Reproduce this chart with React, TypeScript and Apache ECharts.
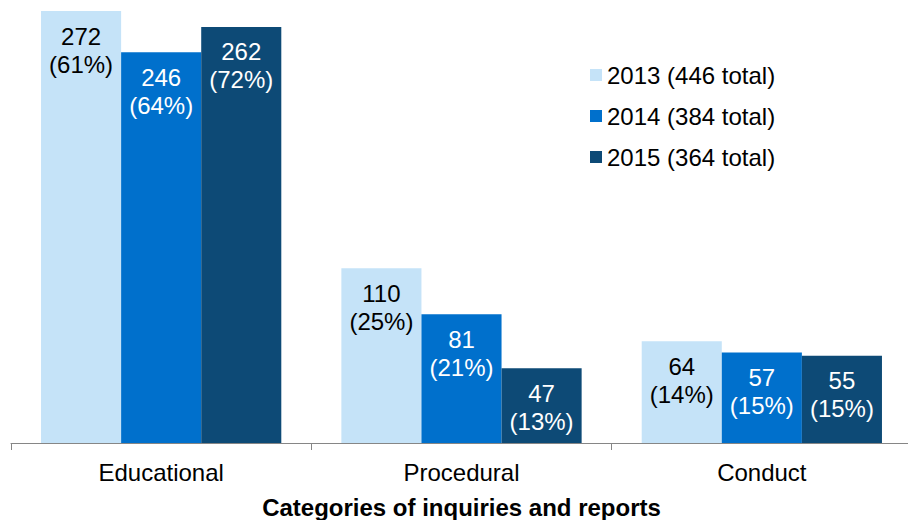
import React, { useEffect, useRef } from "react";
import * as echarts from "echarts";

const categories = ["Educational", "Procedural", "Conduct"];
const seriesNames = ["2013 (446 total)", "2014 (384 total)", "2015 (364 total)"];
const values2013 = [272, 110, 64];
const values2014 = [246, 81, 57];
const values2015 = [262, 47, 55];
const pct2013 = ["61%", "25%", "14%"];
const pct2014 = ["64%", "21%", "15%"];
const pct2015 = ["72%", "13%", "15%"];
const colors = ["#C5E3F8", "#0070CC", "#0D4A76"];
const labelColors = ["#000000", "#ffffff", "#ffffff"];
const axisTitle = "Categories of inquiries and reports";

const FONT = "'Liberation Sans', Arial, sans-serif";

export default function App() {
  const ref = useRef<HTMLDivElement>(null);
  useEffect(() => {
    if (!ref.current) return;
    const chart = echarts.init(ref.current, undefined, { renderer: "svg" });
    const vals = [values2013, values2014, values2015];
    const pcts = [pct2013, pct2014, pct2015];
    chart.setOption({
      animation: false,
      textStyle: { fontFamily: FONT },
      grid: {
        left: 11,
        top: 11,
        bottom: 77,
        width: 901,
        containLabel: false,
        outerBoundsMode: "none",
      },
      legend: {
        orient: "vertical",
        left: 585,
        top: 58,
        itemWidth: 12,
        itemHeight: 12,
        itemGap: 17,
        icon: "rect",
        textStyle: { fontSize: 24, color: "#000", fontFamily: FONT, lineHeight: 24 },
        data: seriesNames,
      },
      xAxis: {
        type: "category",
        data: categories,
        axisLine: { lineStyle: { color: "#868686", width: 1 } },
        axisTick: { show: true, length: 7, lineStyle: { color: "#868686" } },
        axisLabel: { fontSize: 24, color: "#000", margin: 17, fontFamily: FONT },
        name: axisTitle,
        nameLocation: "middle",
        nameGap: 52,
        nameTextStyle: { fontSize: 24, fontWeight: "bold", color: "#000", fontFamily: FONT },
      },
      yAxis: {
        type: "value",
        min: 0,
        max: 272,
        show: false,
        splitLine: { show: false },
      },
      series: seriesNames.map((name, i) => ({
        name,
        type: "bar",
        data: vals[i],
        barGap: "0%",
        barCategoryGap: "20%",
        itemStyle: { color: colors[i] },
        label: {
          show: true,
          position: "insideTop",
          distance: 11,
          fontSize: 24,
          lineHeight: 28,
          color: labelColors[i],
          fontFamily: FONT,
          formatter: (p: any) => `${p.value}\n(${pcts[i][p.dataIndex]})`,
        },
      })),
    });
    return () => chart.dispose();
  }, []);
  return <div ref={ref} style={{ width: 908, height: 520, position: "absolute", left: 0, top: 0 }} />;
}
